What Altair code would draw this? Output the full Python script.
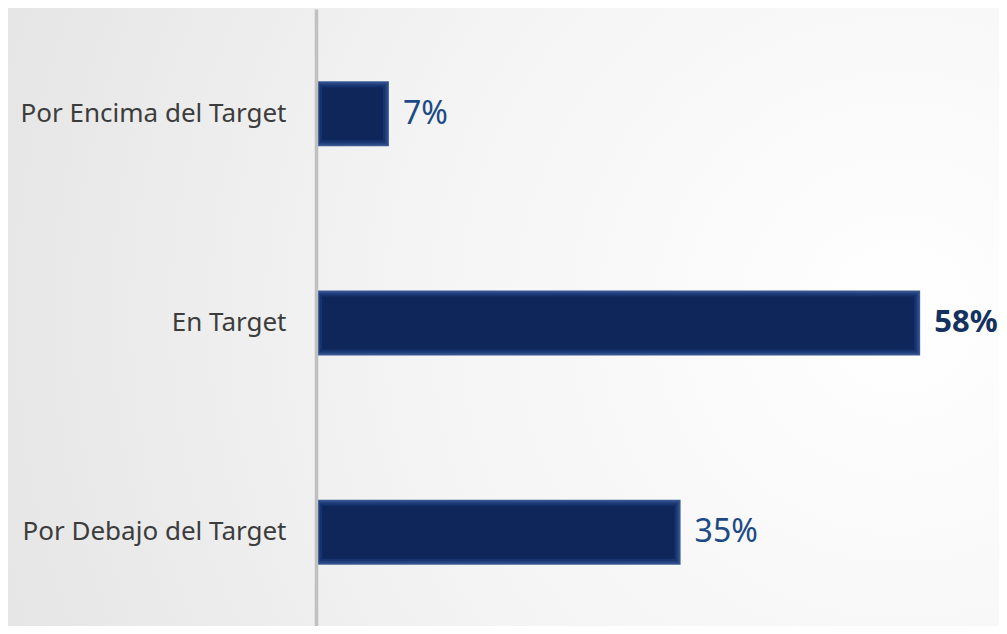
import altair as alt
import pandas as pd

categories = ["Por Encima del Target", "En Target", "Por Debajo del Target"]
values = [7, 58, 35]
labels = ["7%", "58%", "35%"]

df = pd.DataFrame({"cat": categories, "v": values, "lab": labels})

W, H = 625, 617
base = alt.Chart(df)
FONT = "Noto Sans"

ysc = alt.Scale(domain=categories, range=[0, 628], paddingInner=0, paddingOuter=0)
y = alt.Y("cat:N", sort=categories, scale=ysc,
          axis=alt.Axis(title=None, domainColor="#c0c0c0", domainWidth=3.5, ticks=False,
                        labelFontSize=26, labelFont=FONT, labelColor="#3c3c3c",
                        labelPadding=30, labelLimit=0, grid=False, zindex=1))
xsc = alt.Scale(domain=[0, 60], nice=False)
x = alt.X("v:Q", scale=xsc, axis=None)

bg = alt.Chart(alt.Data(values=[{}])).mark_rect(
    fill=alt.RadialGradient(
        gradient="radial",
        stops=[alt.GradientStop(color="#ffffff", offset=0),
               alt.GradientStop(color="#f4f4f4", offset=0.5),
               alt.GradientStop(color="#e4e4e4", offset=1)],
        x1=0.9, y1=0.5, x2=0.9, y2=0.5, r1=0, r2=1),
    clip=False,
).encode(x=alt.value(-308), x2=alt.value(W + 58), y=alt.value(-1), y2=alt.value(H))

glow = [(65, 0, "#3d5d97"), (63, 1, "#2c4b87"), (60, 2.5, "#203e7a"),
        (57, 4, "#17336d"), (53, 6, "#0f265b")]
bars = [base.mark_bar(size=s, color=c, xOffset=-o, x2Offset=o).encode(y=y, x=x, x2=alt.datum(0))
        for s, o, c in glow]

t_norm = base.transform_filter(alt.datum.v != 58).mark_text(
    align="left", baseline="middle", dx=14, fontSize=32, font=FONT,
    color="#1b4a86").encode(y=y, x=x, text="lab:N")
t_bold = base.transform_filter(alt.datum.v == 58).mark_text(
    align="left", baseline="middle", dx=14, fontSize=31, font=FONT, fontWeight="bold",
    color="#14315f").encode(y=y, x=x, text="lab:N")

chart = alt.layer(bg, *bars, t_norm, t_bold).properties(
    width=W, height=H,
    autosize=alt.AutoSizeParams(type="none"),
    padding={"left": 308, "top": 1, "right": 58, "bottom": 0},
    background="#ffffff",
).configure_view(stroke=None)

chart.save("out.html", embed_options={"renderer": "svg", "actions": False})
